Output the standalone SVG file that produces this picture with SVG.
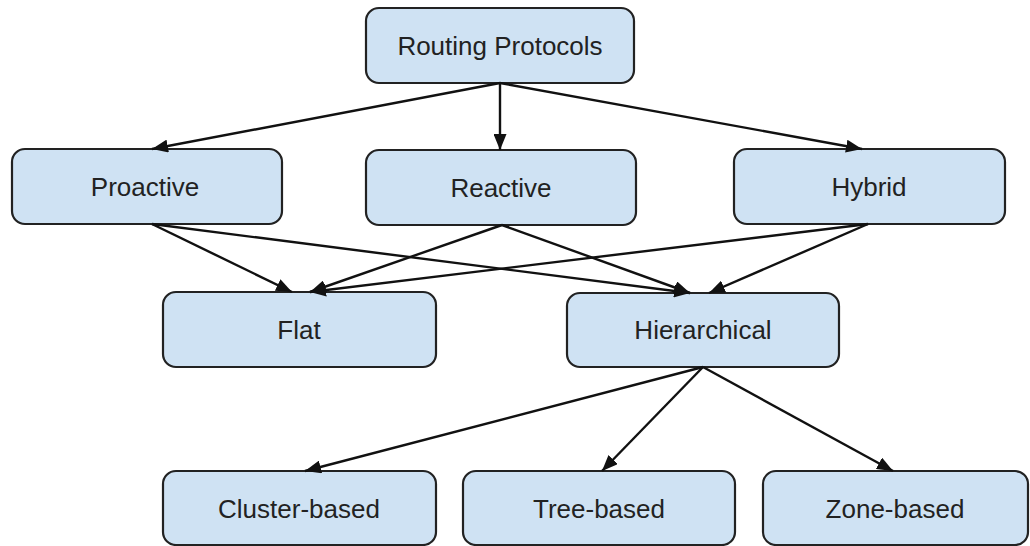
<svg xmlns="http://www.w3.org/2000/svg" width="1030" height="546" viewBox="0 0 1030 546">
  <style>
    .box { fill: #cfe2f3; stroke: #222; stroke-width: 2.2; }
    .label { font-family: "Liberation Sans", Arial, sans-serif; font-size: 26px; fill: #222; text-anchor: middle; }
    .edge { stroke: #111; stroke-width: 2.4; fill: none; marker-end: url(#arrow); }
  </style>
  <defs>
    <marker id="arrow" viewBox="0 0 16 13" refX="16" refY="6.5" markerWidth="16" markerHeight="13" markerUnits="userSpaceOnUse" orient="auto">
      <path d="M0,0 L16,6.5 L0,13 z" fill="#111"/>
    </marker>
  </defs>

  <rect width="1030" height="546" fill="#ffffff"/>

  <g id="routing">
    <rect class="box" x="366" y="8" width="268" height="75" rx="13"/>
    <text class="label" x="500" y="55">Routing Protocols</text>
  </g>
  <g id="proactive">
    <rect class="box" x="12" y="149" width="270" height="75" rx="13"/>
    <text class="label" x="145" y="196">Proactive</text>
  </g>
  <g id="reactive">
    <rect class="box" x="366" y="150" width="270" height="75" rx="13"/>
    <text class="label" x="501" y="197">Reactive</text>
  </g>
  <g id="hybrid">
    <rect class="box" x="734" y="149" width="271" height="75" rx="13"/>
    <text class="label" x="869" y="196">Hybrid</text>
  </g>
  <g id="flat">
    <rect class="box" x="163" y="292" width="273" height="75" rx="13"/>
    <text class="label" x="299" y="339">Flat</text>
  </g>
  <g id="hierarchical">
    <rect class="box" x="567" y="293" width="272" height="74" rx="13"/>
    <text class="label" x="703" y="339">Hierarchical</text>
  </g>
  <g id="cluster">
    <rect class="box" x="163" y="471" width="273" height="74" rx="13"/>
    <text class="label" x="299" y="518">Cluster-based</text>
  </g>
  <g id="tree">
    <rect class="box" x="463" y="471" width="272" height="74" rx="13"/>
    <text class="label" x="599" y="518">Tree-based</text>
  </g>
  <g id="zone">
    <rect class="box" x="763" y="471" width="265" height="74" rx="13"/>
    <text class="label" x="895" y="518">Zone-based</text>
  </g>

  <g id="connectors">
    <line class="edge" x1="500" y1="83" x2="152" y2="149"/>
    <line class="edge" x1="500" y1="83" x2="500" y2="150"/>
    <line class="edge" x1="500" y1="83" x2="862" y2="149"/>

    <line class="edge" x1="152" y1="224" x2="292" y2="292"/>
    <line class="edge" x1="152" y1="224" x2="690" y2="293"/>
    <line class="edge" x1="502" y1="225" x2="310" y2="292"/>
    <line class="edge" x1="502" y1="225" x2="690" y2="293"/>
    <line class="edge" x1="868" y1="224" x2="310" y2="292"/>
    <line class="edge" x1="868" y1="224" x2="709" y2="293"/>

    <line class="edge" x1="703" y1="367" x2="305" y2="471"/>
    <line class="edge" x1="703" y1="367" x2="602" y2="471"/>
    <line class="edge" x1="703" y1="367" x2="893" y2="471"/>
  </g>
</svg>
